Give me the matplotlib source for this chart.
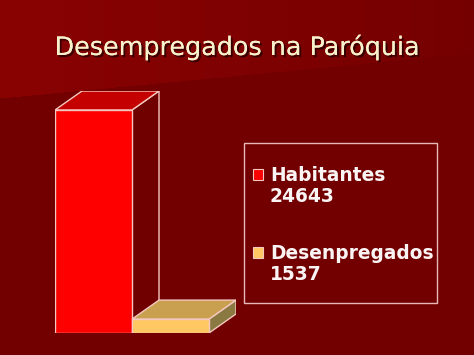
import matplotlib.pyplot as plt
import matplotlib.patheffects as pe
from matplotlib.patches import Rectangle
import numpy as np

title = "Desempregados na Paróquia"
categories = ["Habitantes", "Desenpregados"]
values = [24643, 1537]

front_colors = ["#ff0000", "#ffc862"]
top_colors = ["#c40000", "#c8a050"]
side_colors = ["#700000", "#8a7a42"]
edge = "#f4c8c0"

W, H = 474, 355
fig = plt.figure(figsize=(W / 100, H / 100), dpi=100)

# background
bg = fig.add_axes([0, 0, 1, 1])
bg.set_xlim(0, W)
bg.set_ylim(H, 0)
bg.axis("off")
xx, yy = np.meshgrid(np.arange(W), np.arange(H))
base = np.array([0.45, 0.0, 0.0])
light_l = np.array([0.54, 0.01, 0.01])
light_r = np.array([0.46, 0.0, 0.0])
t = (xx / W)[..., None]
upper = light_l * (1 - t) + light_r * t
boundary = 98 - 45 * (xx / W)
mask = (yy < boundary)[..., None]
img = np.where(mask, upper, base)
bg.imshow(img, extent=(0, W, H, 0), aspect="auto", zorder=0)

# title
bg.text(236.5, 55, title, ha="center", va="baseline", fontsize=18.3,
        color="#f8f2cc", zorder=5,
        path_effects=[pe.withSimplePatchShadow(offset=(1.5, -1.5), shadow_rgbFace="#300000", alpha=0.9), pe.Normal()])

# 3d bars
ax = fig.add_axes([55 / W, 22 / H, 181 / W, 242 / H])
ax.axis("off")
ax.patch.set_alpha(0)
dx = 27 / 77
dy = max(values) * 19 / 223
ax.set_xlim(0, len(values) + dx)
ax.set_ylim(0, max(values) + dy)

for i, v in enumerate(values):
    x0 = i
    x1 = i + 1
    z = 10 + i * 3
    ax.fill([x1, x1, x1 + dx, x1 + dx], [0, v, v + dy, dy],
            color=side_colors[i], ec=edge, lw=1, zorder=z)
    ax.fill([x0, x1, x1 + dx, x0 + dx], [v, v, v + dy, v + dy],
            color=top_colors[i], ec=edge, lw=1, zorder=z + 1)
    ax.bar(x0, v, width=1, align="edge", color=front_colors[i],
           edgecolor=edge, lw=1, zorder=z + 2)

# legend
bg.add_patch(Rectangle((244, 143), 193, 160, fill=False, ec="#e8b8b8", lw=1, zorder=4))
for i, (name, v) in enumerate(zip(categories, values)):
    ytop = 169 + i * 78
    bg.add_patch(Rectangle((253.5, ytop), 10, 11, fc=front_colors[i], ec=edge, lw=0.8, zorder=5))
    bg.text(270, ytop + 12, name, fontsize=13.4, fontweight="bold", color="#fbf4f4",
            va="baseline", ha="left", zorder=5)
    bg.text(270, ytop + 32.5, str(v), fontsize=13.4, fontweight="bold", color="#fbf4f4",
            va="baseline", ha="left", zorder=5)

fig.savefig("out.png", dpi=100)
